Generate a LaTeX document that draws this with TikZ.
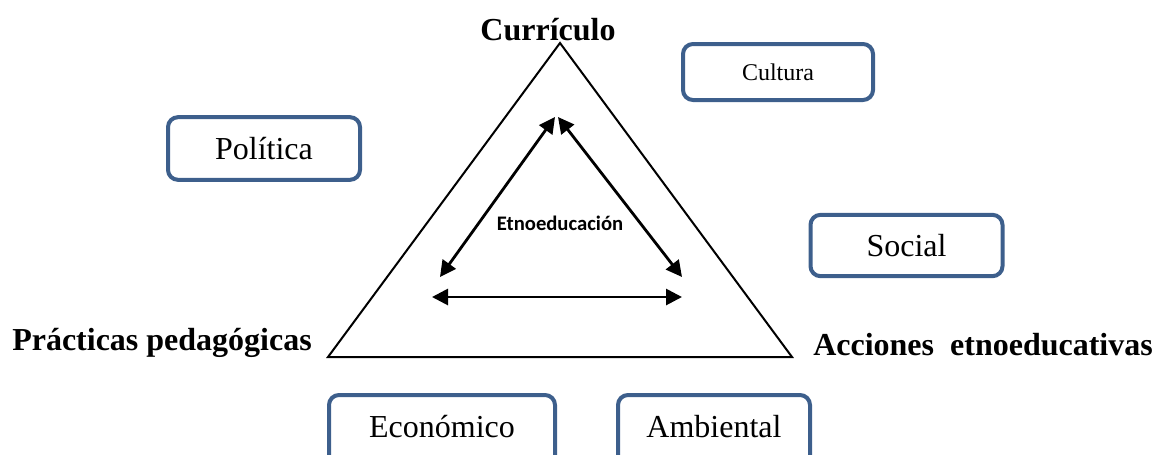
\documentclass[tikz,border=0pt]{standalone}
\usepackage{fontspec}
\setmainfont{Liberation Serif}
\newfontfamily\calibri{Carlito}
\usepackage{xcolor}
\usetikzlibrary{arrows.meta}
\definecolor{bordeazul}{RGB}{61,95,140}

\begin{document}
\begin{tikzpicture}[x=0.75pt, y=-0.75pt]

\tikzstyle{caja}=[draw=bordeazul, line width=3pt, rounded corners=7.5pt, minimum width=144pt, minimum height=47pt, inner sep=0pt, font=\fontsize{24}{28}\selectfont]
\tikzstyle{cajabaja}=[caja, anchor=base, text height=31.5pt, text depth=24pt, minimum height=0pt]
\tikzstyle{vertice}=[inner sep=0pt, font=\fontsize{24}{28}\selectfont\bfseries]
\tikzstyle{flecha}=[{Triangle[length=12pt,width=12pt]}-{Triangle[length=12pt,width=12pt]}, line width=2.1pt]

\useasboundingbox (0,0) rectangle (1155,454);
\clip (0,0) rectangle (1155,454);

%% triangulo
\coordinate (apex) at (560,43);
\coordinate (izq) at (328,357);
\coordinate (der) at (792,357);

\draw [line width=1.5pt, line join=miter] (apex) -- (izq) -- (der) -- cycle;

\node (curr) at (548,40) [vertice, anchor=base] {Currículo};
\node (prac) at (12,350) [vertice, anchor=base west] {Prácticas pedagógicas};
\node (acc) at (813,355) [vertice, anchor=base west] {Acciones~~etnoeducativas};

%% flechas internas
\coordinate (a1) at (555,117);
\coordinate (a2) at (440,277);
\coordinate (b1) at (558,117);
\coordinate (b2) at (682,277);
\coordinate (c1) at (432,297);
\coordinate (c2) at (682,297);

\draw [flecha] (a1) -- (a2);
\draw [flecha] (b1) -- (b2);
\draw [flecha] (c1) -- (c2);

\node (etno) at (560,223) [font=\calibri\fontsize{15.5}{18}\selectfont\bfseries] {Etnoeducación};

%% cajas
\node (cultura) at (778,72) [caja, minimum width=142.5pt, minimum height=42pt, font=\fontsize{18}{21}\selectfont] {Cultura};
\node (politica) at (264,148.5) [caja] {Política};
\node (social) at (906.5,245.5) [caja, minimum height=46pt] {Social};
\node (econ) at (442,437) [cajabaja, minimum width=169.5pt] {Económico};
\node (amb) at (714,437) [cajabaja] {Ambiental};

\end{tikzpicture}
\end{document}
